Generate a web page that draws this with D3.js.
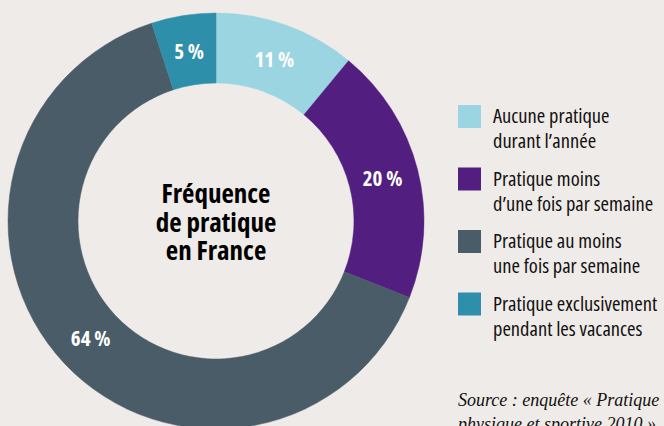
<!DOCTYPE html>
<html>
<head>
<meta charset="utf-8">
<script src="https://cdn.jsdelivr.net/npm/d3@7"></script>
<style>
  html, body { margin: 0; padding: 0; background: #efebe8; }
  svg { display: block; }
  .cond { font-family: "Open Sans", sans-serif; font-stretch: 75%; }
</style>
</head>
<body>
<div id="mydiv"></div>
<script>
// data
const categories = ["Aucune pratique durant l’année", "Pratique moins d’une fois par semaine",
  "Pratique au moins une fois par semaine", "Pratique exclusivement pendant les vacances"];
const values = [11, 20, 64, 5];
const colors = ["#9bd5e1", "#521f80", "#4a5c68", "#2e8faa"];
const legendLines = [
  ["Aucune pratique", "durant l’année"],
  ["Pratique moins", "d’une fois par semaine"],
  ["Pratique au moins", "une fois par semaine"],
  ["Pratique exclusivement", "pendant les vacances"]
];
const centerTitle = ["Fréquence", "de pratique", "en France"];
const sourceLines = ["Source : enquête « Pratique", "physique et sportive 2010 »"];

const W = 664, H = 426;

const svg = d3.select("#mydiv")
  .append("svg")
  .attr("width", W)
  .attr("height", H)
  .style("background-color", "#efebe8");

// donut, centred left
const cx = 216, cy = 221, rOuter = 208, rInner = 138;

const gpie = svg.append("g")
  .attr("transform", `translate(${cx},${cy})`);

const pie = d3.pie().sort(null).value(d => d.v);
const arcs = pie(values.map((v, i) => ({v, i})));

const arc = d3.arc().innerRadius(rInner).outerRadius(rOuter);
const labelArc = d3.arc().innerRadius(172).outerRadius(172);

gpie.selectAll("path.slice")
  .data(arcs).enter()
  .append("path")
  .attr("class", "slice")
  .attr("d", arc)
  .attr("fill", d => colors[d.data.i])
  .attr("stroke", d => colors[d.data.i])
  .attr("stroke-width", 0.5);

// percent labels
gpie.selectAll("text.pct")
  .data(arcs).enter()
  .append("text")
  .attr("class", "pct cond")
  .attr("transform", d => `translate(${labelArc.centroid(d)})`)
  .attr("text-anchor", "middle")
  .attr("dy", "0.36em")
  .style("fill", "#fff")
  .style("font-weight", "bold")
  .style("font-size", "21px")
  .text(d => `${d.data.v} %`);

// center title
gpie.append("text")
  .attr("class", "cond")
  .attr("text-anchor", "middle")
  .style("font-weight", "bold")
  .style("font-size", "27px")
  .style("fill", "#000")
  .selectAll("tspan")
  .data(centerTitle).enter()
  .append("tspan")
  .attr("x", 0)
  .attr("y", (d, i) => -18 + i * 28.5)
  .text(d => d);

// legend
const gleg = svg.append("g").attr("transform", "translate(458,105)");
const step = 62.5;

gleg.selectAll("rect")
  .data(colors).enter()
  .append("rect")
  .attr("x", 0)
  .attr("y", (d, i) => i * step)
  .attr("width", 23)
  .attr("height", 23)
  .attr("fill", d => d);

gleg.selectAll("text.leg")
  .data(legendLines).enter()
  .append("text")
  .attr("class", "leg cond")
  .style("font-size", "20.5px")
  .style("fill", "#111")
  .each(function (lines, i) {
    d3.select(this).selectAll("tspan")
      .data(lines).enter()
      .append("tspan")
      .attr("x", 35)
      .attr("y", (d, j) => i * step + 18 + j * 25)
      .text(d => d);
  });

// source
svg.append("text")
  .style("font-family", "'Liberation Serif', 'DejaVu Serif', serif")
  .style("font-style", "italic")
  .style("font-size", "18px")
  .style("fill", "#111")
  .selectAll("tspan")
  .data(sourceLines).enter()
  .append("tspan")
  .attr("x", 458)
  .attr("y", (d, i) => 406 + i * 24)
  .text(d => d);
</script>
</body>
</html>
